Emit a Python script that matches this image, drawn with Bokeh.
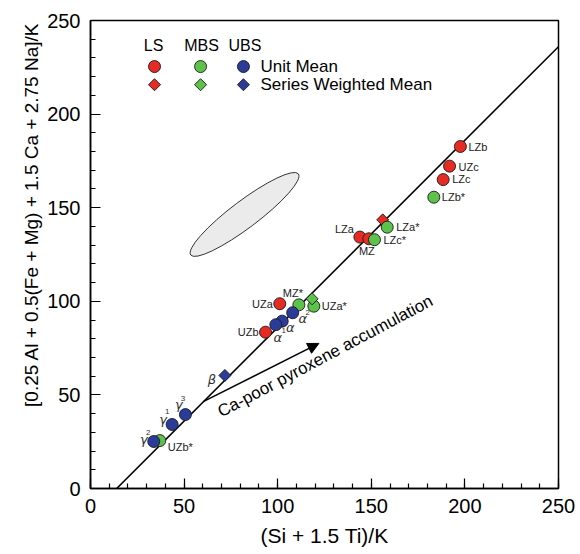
import math
from bokeh.plotting import figure
from bokeh.models import Range1d, SingleIntervalTicker, Label, Arrow, NormalHead, ColumnDataSource, Title
from bokeh.core.properties import value
from bokeh.embed import file_html
from bokeh.resources import INLINE

# Lower series (LS): unit means and series weighted mean
ls_units = ["LZb", "UZc", "LZc", "LZa", "MZ", "UZa", "UZb"]
ls_x = [197.6, 191.8, 188.4, 143.9, 148.7, 101.1, 93.5]
ls_y = [182.7, 172.2, 165.0, 134.3, 133.4, 98.7, 83.5]
ls_wm_x = [156.1]
ls_wm_y = [143.5]

# Middle series (MBS)
mbs_units = ["LZb*", "LZa*", "LZc*", "MZ*", "UZa*", "UZb*"]
mbs_x = [183.4, 158.5, 151.7, 111.3, 119.3, 37.0]
mbs_y = [155.6, 139.6, 132.9, 98.1, 97.4, 25.6]
mbs_wm_x = [118.4]
mbs_wm_y = [101.3]

# Upper series (UBS)
ubs_units = ["α", "α", "α", "γ", "γ", "γ"]
ubs_sup = ["2", "", "1", "3", "1", "2"]
ubs_x = [108.0, 102.4, 99.0, 50.7, 43.6, 33.8]
ubs_y = [93.9, 89.4, 87.5, 39.5, 34.2, 25.1]
ubs_wm_units = ["β"]
ubs_wm_x = [71.8]
ubs_wm_y = [60.4]

# Reference trend line, Ca-poor pyroxene vector and the shaded field
trend_x = [14, 250]
trend_y = [0, 236]
cpx_start = [60.5, 46.5]
cpx_end = [122.0, 77.5]
field_center = [82.3, 146.4]
field_axes = [72.0, 14.5]
field_angle_deg = 37.0

RED, GREEN, BLUE = "#e52b22", "#5cc24a", "#2b3b9a"
EDGE = "#1a1a1a"
FONT = "Liberation Sans"
LBL = "#222222"

p = figure(width=580, height=554, output_backend="svg", toolbar_location=None,
           x_range=Range1d(0, 250), y_range=Range1d(0, 250),
           min_border_left=90, min_border_right=22, min_border_top=20, min_border_bottom=66)
p.xgrid.visible = False
p.ygrid.visible = False
p.outline_line_color = "black"
p.outline_line_width = 1.5
p.background_fill_color = "white"

for ax in (p.xaxis[0], p.yaxis[0]):
    ax.ticker = SingleIntervalTicker(interval=50, num_minor_ticks=5)
    ax.major_tick_in = 10
    ax.major_tick_out = 0
    ax.minor_tick_in = 5
    ax.minor_tick_out = 0
    ax.axis_line_width = 1.5
    ax.major_tick_line_width = 1.2
    ax.minor_tick_line_width = 1.2
    ax.major_label_text_font = FONT
    ax.major_label_text_font_size = "20px"
    ax.major_label_text_color = "black"

p.xaxis.major_label_standoff = 10
p.yaxis.major_label_standoff = 10
p.xaxis.axis_label = "(Si + 1.5 Ti)/K"
p.xaxis.axis_label_text_font = FONT
p.xaxis.axis_label_text_font_size = "21px"
p.xaxis.axis_label_text_font_style = "normal"
p.xaxis.axis_label_text_color = "black"
p.xaxis.axis_label_standoff = 8

# vertical axis title, set flush with the top of the frame
p.add_layout(Title(text="[0.25 Al + 0.5(Fe + Mg) + 1.5 Ca + 2.75 Na]/K", align="right",
                   offset=2, text_font=FONT, text_font_size="19px",
                   text_font_style="normal", text_color="black", standoff=6), "left")

# shaded field
p.ellipse(x=[field_center[0]], y=[field_center[1]], width=field_axes[0], height=field_axes[1],
          angle=math.radians(field_angle_deg), fill_color="#ebebeb", line_color="#333333", line_width=1)

# trend line
p.line(trend_x, trend_y, line_color="black", line_width=1.6)

# Ca-poor pyroxene accumulation vector
p.add_layout(Arrow(x_start=cpx_start[0], y_start=cpx_start[1], x_end=cpx_end[0], y_end=cpx_end[1],
                   line_width=1.5, line_color="black",
                   end=NormalHead(size=11, fill_color="black", line_color="black")))
p.add_layout(Label(x=71.0, y=36.0, angle=math.radians(28), text="Ca-poor pyroxene accumulation",
                   text_font=FONT, text_font_size="17px", text_color="black",
                   text_align="left", text_baseline="bottom"))

circle_kw = dict(marker="circle", size=12, line_color=EDGE, line_width=0.9)
diamond_kw = dict(marker="square", size=8.5, angle=math.pi / 4, line_color=EDGE, line_width=0.9)

p.scatter(ls_x, ls_y, fill_color=RED, **circle_kw)
p.scatter(ls_wm_x, ls_wm_y, fill_color=RED, **diamond_kw)
p.scatter(mbs_x, mbs_y, fill_color=GREEN, **circle_kw)
p.scatter(mbs_wm_x, mbs_wm_y, fill_color=GREEN, **diamond_kw)
p.scatter(ubs_x, ubs_y, fill_color=BLUE, **circle_kw)
p.scatter(ubs_wm_x, ubs_wm_y, fill_color=BLUE, **diamond_kw)

# unit labels (pixel offsets from each marker)
ls_lab = ColumnDataSource(dict(x=ls_x, y=ls_y, t=ls_units,
                               dx=[8, 9, 9, -6, -2, -7, -7], dy=[1, 1, -1, -8, 12, 0, 0],
                               al=["left", "left", "left", "right", "center", "right", "right"]))
mbs_lab = ColumnDataSource(dict(x=mbs_x, y=mbs_y, t=mbs_units,
                                dx=[8, 9, 9, -6, 8, 8], dy=[0, 0, 0, -12, 0, 6],
                                al=["left", "left", "left", "center", "left", "left"]))
for src in (ls_lab, mbs_lab):
    p.text(x="x", y="y", text="t", x_offset="dx", y_offset="dy", text_align="al", source=src,
           text_baseline="middle", text_font=value(FONT), text_font_size="11px", text_color=LBL)

greek = ColumnDataSource(dict(x=ubs_x + ubs_wm_x, y=ubs_y + ubs_wm_y, t=ubs_units + ubs_wm_units,
                              dx=[10, 8, 2, -6.5, -9, -10, -13], dy=[6, 6, 13, -10, -5, -2, 4]))
p.text(x="x", y="y", text="t", x_offset="dx", y_offset="dy", source=greek,
       text_align="center", text_baseline="middle", text_font=value("DejaVu Sans"),
       text_font_style="italic", text_font_size="13px", text_color="#333333")
sup = ColumnDataSource(dict(x=ubs_x, y=ubs_y, t=ubs_sup,
                            dx=[15, 0, 8, -2.5, -5, -5.5], dy=[0, 0, 6, -16, -12.5, -9]))
p.text(x="x", y="y", text="t", x_offset="dx", y_offset="dy", source=sup,
       text_align="center", text_baseline="middle", text_font=value(FONT),
       text_font_size="8px", text_color="#333333")

# key
key_cols = [34.2, 58.8, 81.7]
key_fill = [RED, GREEN, BLUE]
p.text(x=[33.7, 59.3, 82.5], y=[236.6] * 3, text=["LS", "MBS", "UBS"], text_align="center",
       text_baseline="middle", text_font=value(FONT), text_font_size="16px", text_color="black")
p.scatter(key_cols, [225.4] * 3, fill_color=key_fill, **circle_kw)
p.scatter(key_cols, [215.7] * 3, fill_color=key_fill, **diamond_kw)
p.text(x=[90.8, 90.8], y=[225.4, 215.7], text=["Unit Mean", "Series Weighted Mean"],
       text_align="left", text_baseline="middle", text_font=value(FONT),
       text_font_size="17px", text_color="black")

open("out.html", "w").write(file_html(p, INLINE))
